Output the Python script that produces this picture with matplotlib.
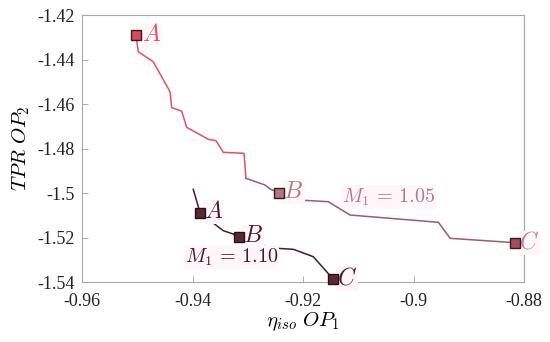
import matplotlib
matplotlib.use("Agg")
import matplotlib.pyplot as plt

plt.rcParams['mathtext.fontset'] = 'cm'
plt.rcParams['font.family'] = ['Liberation Serif', 'DejaVu Serif']

# M1 = 1.05 path (first part red, second part mauve)
red1_x = [-0.95023, -0.94981, -0.94710, -0.94407, -0.94377, -0.94195, -0.94105,
          -0.93714, -0.93575, -0.93443, -0.93068, -0.93032]
red1_y = [-1.42899, -1.43649, -1.44099, -1.45447, -1.46157, -1.46324, -1.47047,
          -1.47587, -1.47649, -1.48171, -1.48216, -1.49339]
red2_x = [-0.93032, -0.92688, -0.92597, -0.92429, -0.92295, -0.91542, -0.91149,
          -0.89551, -0.89339, -0.88158]
red2_y = [-1.49339, -1.49640, -1.49820, -1.49987, -1.50283, -1.50391, -1.50989,
          -1.51317, -1.52036, -1.52234]

# M1 = 1.10 path
dark_x = [-0.93986, -0.93864, -0.93774, -0.93443, -0.93262, -0.93153, -0.92929,
          -0.92476, -0.92176, -0.91814, -0.91452]
dark_y = [-1.49834, -1.50885, -1.51065, -1.51694, -1.51843, -1.51991, -1.52234,
          -1.52485, -1.52530, -1.52863, -1.53879]

# Operating points A, B, C
pts_105_x = [-0.95023, -0.92429, -0.88158]
pts_105_y = [-1.42899, -1.49987, -1.52234]
pts_110_x = [-0.93864, -0.93153, -0.91452]
pts_110_y = [-1.50885, -1.51991, -1.53879]
pt_labels = ['A', 'B', 'C']

xticks = [-0.96, -0.94, -0.92, -0.90, -0.88]
xtick_labels = ['-0.96', '-0.94', '-0.92', '-0.9', '-0.88']
yticks = [-1.54, -1.52, -1.50, -1.48, -1.46, -1.44, -1.42]
ytick_labels = ['-1.54', '-1.52', '-1.5', '-1.48', '-1.46', '-1.44', '-1.42']

c_red = '#e0506a'
c_mauve = '#9c5c68'
c_dark = '#4a1a2a'
marker_fill_105 = ['#d8485f', '#b07684', '#a24c5c']
label_col_105 = ['#e0506a', '#b07a88', '#b08a98']
marker_fill_110 = ['#5a2a32', '#5a2a32', '#5a2a32']

fig = plt.figure(figsize=(5.5, 3.42), dpi=100)
ax = fig.add_axes([0.149, 0.1754, 0.804, 0.7807])

ax.plot(red1_x, red1_y, color=c_red, lw=1.1)
ax.plot(red2_x, red2_y, color=c_mauve, lw=1.1)
ax.plot(dark_x, dark_y, color=c_dark, lw=1.1)

for x, y, f in zip(pts_105_x, pts_105_y, marker_fill_105):
    ax.plot([x], [y], 's', ms=7, mfc=f, mec='#3a1a1e', mew=1.0, clip_on=False, zorder=5)
for x, y, f in zip(pts_110_x, pts_110_y, marker_fill_110):
    ax.plot([x], [y], 's', ms=7, mfc=f, mec='#2a1014', mew=1.0, clip_on=False, zorder=5)

bb = dict(boxstyle='square,pad=0.05', fc='#fef6f8', ec='none')
off = [(0.00105, 0.0), (0.00075, 0.0), (0.0006, 0.0)]
for (x, y), lab, col, o in zip(zip(pts_105_x, pts_105_y), pt_labels, label_col_105, off):
    ax.text(x + o[0], y, '$' + lab + '$', color=col, fontsize=17, ha='left', va='center',
            bbox=bb, zorder=4)
for (x, y), lab, o in zip(zip(pts_110_x, pts_110_y), pt_labels, off):
    ax.text(x + 0.0007, y + 0.0003, '$' + lab + '$', color=c_dark, fontsize=17, ha='left',
            va='center', bbox=bb, zorder=4)

ax.text(-0.91294, -1.5018, r'$M_1\,=\,1.05$', color='#b07a88', fontsize=14.5,
        ha='left', va='center', bbox=bb, zorder=4)
ax.text(-0.94136, -1.5288, r'$M_1\,=\,1.10$', color=c_dark, fontsize=14.5,
        ha='left', va='center', bbox=bb, zorder=4)

ax.set_xlim(-0.96, -0.88)
ax.set_ylim(-1.54, -1.42)
ax.set_xticks(xticks)
ax.set_xticklabels(xtick_labels)
ax.set_yticks(yticks)
ax.set_yticklabels(ytick_labels)
ax.tick_params(direction='in', length=4, width=0.6, color='#a0a0a0',
               labelsize=13, labelcolor='#222222', top=False, right=False)
ax.tick_params(axis='x', pad=8)
ax.tick_params(axis='y', pad=5)
for s in ax.spines.values():
    s.set_color('#a6a6a6')
    s.set_linewidth(0.8)

ax.set_xlabel(r'$\eta_{iso}\ OP_1$', fontsize=15, labelpad=0)
ax.set_ylabel(r'$TPR\ OP_2$', fontsize=15, labelpad=4)

fig.savefig('out.png', dpi=100)
